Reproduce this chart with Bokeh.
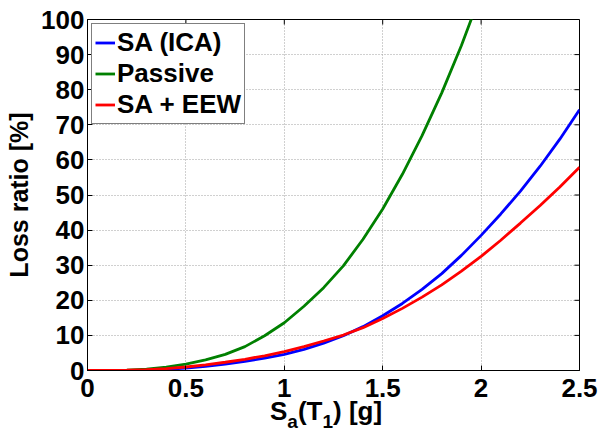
import math
from bokeh.plotting import figure
from bokeh.models import FixedTicker, Range1d, Legend, LegendItem, Div
from bokeh.layouts import column
from bokeh.embed import file_html
from bokeh.resources import INLINE

# ---- data ----
sa_x = [0.0, 0.1, 0.2, 0.3, 0.4, 0.5, 0.6, 0.7, 0.8, 0.9, 1.0, 1.1, 1.2,
        1.3, 1.4, 1.5, 1.6, 1.7, 1.8, 1.9, 2.0, 2.1, 2.2, 2.3, 2.4, 2.5]
loss_sa_ica = [0.0, 0.0, 0.03, 0.12, 0.32, 0.65, 1.15, 1.8, 2.6, 3.5, 4.6, 6.0, 7.8,
               9.9, 12.5, 15.6, 19.1, 23.1, 27.6, 32.8, 38.5, 44.6, 51.1, 58.2, 65.9, 74.3]
loss_sa_eew = [0.0, 0.01, 0.08, 0.25, 0.55, 1.0, 1.6, 2.35, 3.2, 4.2, 5.4, 6.8, 8.4,
               10.1, 12.2, 14.8, 17.7, 20.9, 24.4, 28.3, 32.5, 37.1, 42.0, 47.0, 52.3, 57.9]
passive_x = [0.0, 0.1, 0.2, 0.3, 0.4, 0.5, 0.6, 0.7, 0.8, 0.9, 1.0, 1.1, 1.2,
             1.3, 1.4, 1.5, 1.6, 1.7, 1.8, 1.9, 2.0]
loss_passive = [0.0, 0.02, 0.13, 0.42, 0.95, 1.8, 3.0, 4.6, 6.8, 9.9, 13.6, 18.3, 23.6,
                29.8, 37.4, 46.0, 55.9, 66.9, 79.1, 92.6, 107.5]

series_names = ["SA (ICA)", "Passive", "SA + EEW"]
series_colors = ["#0000ff", "#008000", "#ff0000"]

x_ticks = [0, 0.5, 1, 1.5, 2, 2.5]
x_tick_labels = ["0", "0.5", "1", "1.5", "2", "2.5"]
y_ticks = [0, 10, 20, 30, 40, 50, 60, 70, 80, 90, 100]
y_tick_labels = [str(v) for v in y_ticks]
X_MIN, X_MAX, Y_MIN, Y_MAX = 0, 2.5, 0, 100

FONT = "Liberation Sans"
FS = "26px"

p = figure(width=598, height=408, x_range=Range1d(X_MIN, X_MAX), y_range=Range1d(Y_MIN, Y_MAX),
           output_backend="svg", toolbar_location=None,
           min_border_left=87, min_border_right=19, min_border_top=19, min_border_bottom=38)
p.background_fill_color = "white"
p.border_fill_color = "white"
p.outline_line_color = "black"
p.outline_line_width = 1

p.xaxis.ticker = FixedTicker(ticks=x_ticks)
p.yaxis.ticker = FixedTicker(ticks=y_ticks)
p.xaxis.major_label_overrides = dict(zip(x_ticks, x_tick_labels))
p.yaxis.major_label_overrides = dict(zip(y_ticks, y_tick_labels))
for ax in (p.xaxis[0], p.yaxis[0]):
    ax.axis_line_color = "black"
    ax.major_tick_in = 5
    ax.major_tick_out = 0
    ax.minor_tick_line_color = None
    ax.major_tick_line_color = "black"
    ax.major_label_text_font = FONT
    ax.major_label_text_font_style = "bold"
    ax.major_label_text_font_size = FS
    ax.major_label_text_color = "black"
p.xaxis.major_label_standoff = 8
p.yaxis.major_label_standoff = 3
p.xaxis.axis_label = None
p.yaxis.axis_label = "Loss ratio [%]"
p.yaxis.axis_label_text_font = FONT
p.yaxis.axis_label_text_font_style = "bold"
p.yaxis.axis_label_text_font_size = "25px"
p.yaxis.axis_label_text_color = "black"
p.yaxis.axis_label_standoff = 5

p.grid.grid_line_color = "#a0a0a0"
p.grid.grid_line_dash = "1 2"
p.grid.grid_line_width = 1
p.xgrid.ticker = FixedTicker(ticks=x_ticks)
p.ygrid.ticker = FixedTicker(ticks=y_ticks)

# inward tick marks on the top and right edges of the box
p.ray(x=x_ticks, y=[Y_MAX] * len(x_ticks), length=5, length_units="screen",
      angle=-math.pi / 2, line_color="black", line_width=1)
p.ray(x=[X_MAX] * len(y_ticks), y=y_ticks, length=5, length_units="screen",
      angle=math.pi, line_color="black", line_width=1)

r1 = p.line(sa_x, loss_sa_ica, line_color=series_colors[0], line_width=2.8)
r2 = p.line(passive_x, loss_passive, line_color=series_colors[1], line_width=2.8)
r3 = p.line(sa_x, loss_sa_eew, line_color=series_colors[2], line_width=2.8)

legend = Legend(items=[LegendItem(label=series_names[0], renderers=[r1]),
                       LegendItem(label=series_names[1], renderers=[r2]),
                       LegendItem(label=series_names[2], renderers=[r3])],
                location="top_left")
legend.margin = 4
legend.padding = 3
legend.spacing = 0
legend.label_text_font = FONT
legend.label_text_font_style = "bold"
legend.label_text_font_size = FS
legend.label_text_color = "black"
legend.glyph_width = 20
legend.glyph_height = 29
legend.label_height = 29
legend.label_standoff = 2
legend.border_line_color = "black"
legend.border_line_width = 1.5
legend.background_fill_alpha = 1
p.add_layout(legend, "center")

# x-axis label S_a(T_1) [g] with real subscripts
sub = '<span style="font-size:19px;vertical-align:-8px;">{}</span>'
xlabel_html = (
    '<div style="font-family:\'Liberation Sans\';font-weight:bold;font-size:26px;'
    'line-height:26px;color:black;white-space:nowrap;padding-left:270px;'
    'position:relative;top:-10px;">'
    'S' + sub.format('a') + '(T' + sub.format('1') + ') [g]</div>'
)
xlabel = Div(text=xlabel_html, width=598, height=26, margin=(0, 0, 0, 0),
             styles={"overflow": "visible"})

layout = column(p, xlabel, spacing=0)
open("out.html", "w").write(file_html(layout, INLINE))
